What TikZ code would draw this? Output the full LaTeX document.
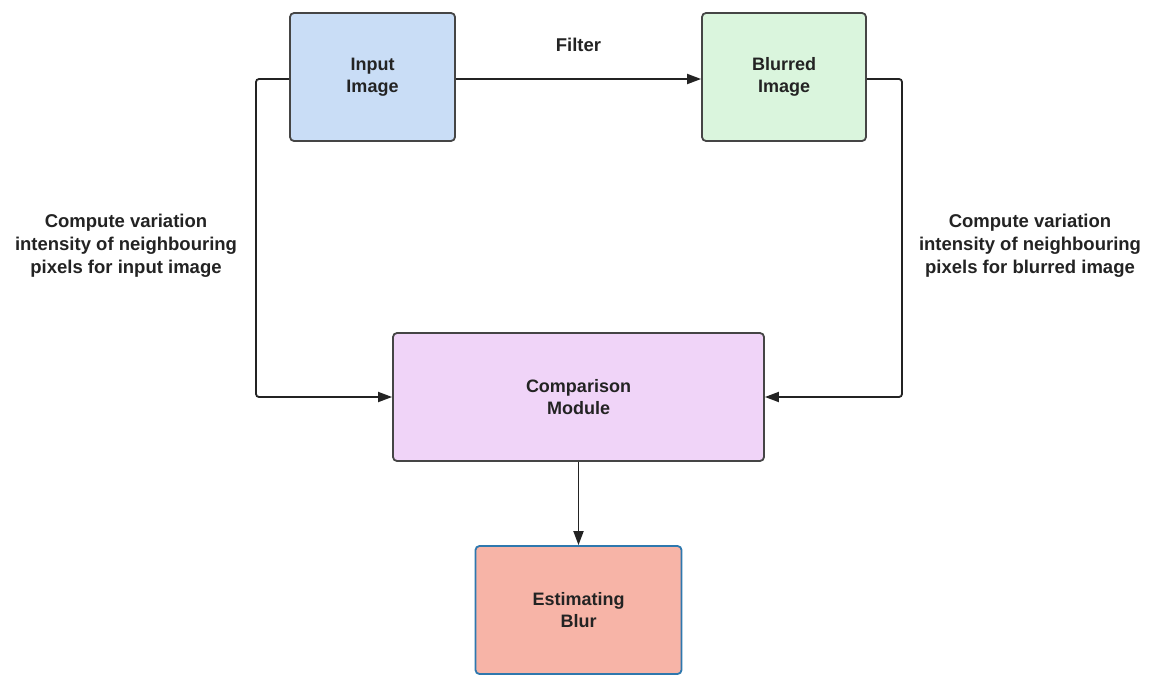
\documentclass[tikz,border=0pt]{standalone}
\usepackage{fontspec}
\setmainfont{Liberation Sans}
\usetikzlibrary{arrows.meta}
\definecolor{inblue}{HTML}{C9DDF6}
\definecolor{blgreen}{HTML}{DAF5DD}
\definecolor{cmpurple}{HTML}{F0D4F8}
\definecolor{essalmon}{HTML}{F7B4A7}
\definecolor{esborder}{HTML}{2E78AE}
\definecolor{boxline}{HTML}{454545}
\definecolor{txt}{HTML}{232323}
\tikzset{
  stagebox/.style={draw=boxline, line width=1.8pt, rounded corners=4pt,
    minimum height=128pt, align=center, font=\fontsize{18}{22}\selectfont\bfseries,
    text=txt, inner sep=0pt},
  link/.style={draw=txt, line width=1.8pt, -{Triangle[length=14pt,width=10pt]}},
  note/.style={align=center, font=\fontsize{18.5}{23}\selectfont\bfseries, text=txt}
}
\begin{document}
\begin{tikzpicture}[x=1pt,y=-1pt]
  \useasboundingbox (0,0) rectangle (1150,675);
  \fill[white] (0,0) rectangle (1150,675);

  \node[stagebox, fill=inblue, minimum width=165pt] (input) at (372.5,77) {Input\\Image};
  \node[stagebox, fill=blgreen, minimum width=164pt] (blurred) at (784,77) {Blurred\\Image};
  \node[stagebox, fill=cmpurple, minimum width=371pt] (cmp) at (578.5,397) {Comparison\\Module};
  \node[stagebox, fill=essalmon, draw=esborder, minimum width=206pt] (est) at (578.5,610) {Estimating\\Blur};

  \coordinate (lcorner) at (256,79);
  \coordinate (rcorner) at (902,79);

  \draw[link] (input.east |- 0,79) -- node[pos=0.5, above=23pt, note] (filt) {Filter} (blurred.west |- 0,79);
  \draw[link, rounded corners=3pt] (input.west |- 0,79) -- (lcorner) |- (cmp.west);
  \draw[link, rounded corners=3pt] (blurred.east |- 0,79) -- (rcorner) |- (cmp.east);
  \draw[link] (cmp.south) -- (est.north);

  \node[note] (lnote) at (126,246) {Compute variation\\intensity of neighbouring\\pixels for input image};
  \node[note] (rnote) at (1030,246) {Compute variation\\intensity of neighbouring\\pixels for blurred image};
\end{tikzpicture}
\end{document}
